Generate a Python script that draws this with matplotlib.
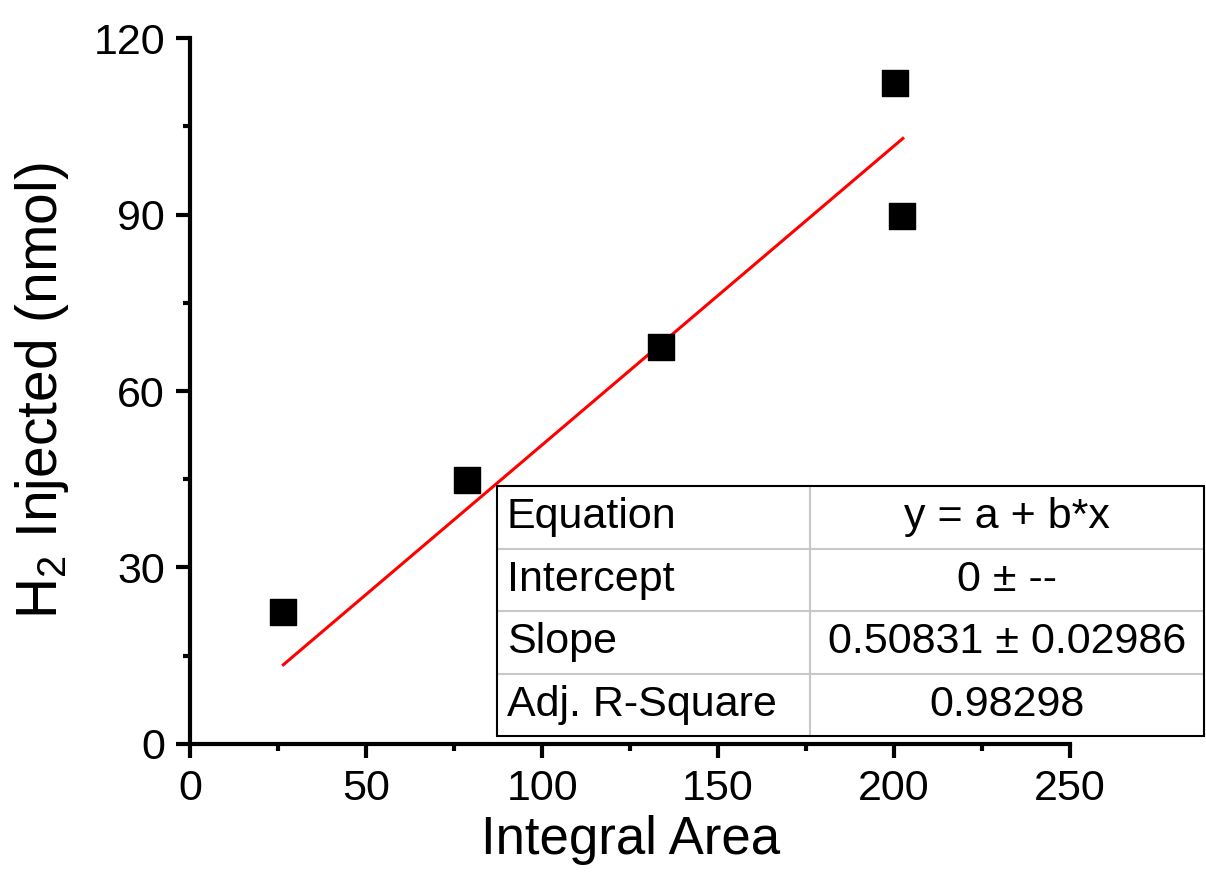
import matplotlib
matplotlib.use('Agg')
import matplotlib.pyplot as plt
from matplotlib.ticker import MultipleLocator
from matplotlib.patches import Rectangle

plt.rcParams['font.family'] = ['Liberation Sans', 'DejaVu Sans']
plt.rcParams['mathtext.fontset'] = 'custom'
plt.rcParams['mathtext.rm'] = 'Liberation Sans'

# Data
area = [26.5, 78.8, 133.8, 200.3, 202.3]
h2_nmol = [22.5, 44.8, 67.4, 112.3, 89.8]

slope = 0.50831
fit_x = [26.5, 202.5]
fit_y = [slope * v for v in fit_x]

table_rows = [
    ['Equation', 'y = a + b*x'],
    ['Intercept', '0 \u00b1 --'],
    ['Slope', '0.50831 \u00b1 0.02986'],
    ['Adj. R-Square', '0.98298'],
]

fig = plt.figure(figsize=(12.06, 8.72), dpi=100)
ax = fig.add_axes([0.1576, 0.1468, 0.7297, 0.8096])

ax.plot(fit_x, fit_y, color='red', lw=2.2, zorder=2)
ax.scatter(area, h2_nmol, marker='s', s=350, color='black', zorder=3)

ax.set_xlim(0, 250)
ax.set_ylim(0, 120)
ax.xaxis.set_major_locator(MultipleLocator(50))
ax.xaxis.set_minor_locator(MultipleLocator(25))
ax.yaxis.set_major_locator(MultipleLocator(30))
ax.yaxis.set_minor_locator(MultipleLocator(15))

for s in ['top', 'right']:
    ax.spines[s].set_visible(False)
for s in ['left', 'bottom']:
    ax.spines[s].set_linewidth(3)

ax.tick_params(which='major', direction='out', length=10, width=3, labelsize=31, pad=8)
ax.tick_params(which='minor', direction='out', length=5, width=3)

ax.set_xlabel('Integral Area', fontsize=38, labelpad=4)
ax.set_ylabel('H$_\\mathregular{2}$ Injected (nmol)', fontsize=41, labelpad=16)

# fit results table
left, right, top, bottom = 0.349, 1.152, 0.3654, 0.0113
split = 0.7045
row_h = (top - bottom) / len(table_rows)
for i, (name, val) in enumerate(table_rows):
    yc = top - (i + 0.5) * row_h
    ax.text(left + 0.011, yc, name, transform=ax.transAxes, fontsize=31,
            ha='left', va='center', clip_on=False)
    ax.text((split + right) / 2, yc, val, transform=ax.transAxes, fontsize=31,
            ha='center', va='center', clip_on=False)
    if i > 0:
        yl = top - i * row_h
        ax.plot([left, right], [yl, yl], transform=ax.transAxes, color='#c8c8c8',
                lw=1.5, clip_on=False)
ax.plot([split, split], [bottom, top], transform=ax.transAxes, color='#c8c8c8',
        lw=1.5, clip_on=False)
ax.add_patch(Rectangle((left, bottom), right - left, top - bottom, transform=ax.transAxes,
                       fill=False, edgecolor='black', lw=1.5, clip_on=False, zorder=4))

fig.savefig('out.png', dpi=100)
